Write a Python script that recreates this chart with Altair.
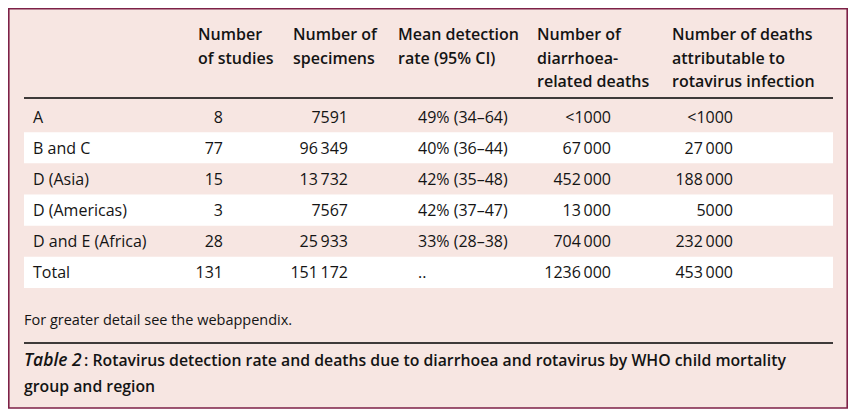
import altair as alt
import pandas as pd

# ---------------- data ----------------
regions = ["A", "B and C", "D (Asia)", "D (Americas)", "D and E (Africa)", "Total"]
n_studies = ["8", "77", "15", "3", "28", "131"]
n_specimens = ["7591", "96\u2009349", "13\u2009732", "7567", "25\u2009933", "151\u2009172"]
mean_rate = ["49% (34–64)", "40% (36–44)", "42% (35–48)", "42% (37–47)", "33% (28–38)", ".."]
diarrhoea_deaths = ["<1000", "67\u2009000", "452\u2009000", "13\u2009000", "704\u2009000", "1236\u2009000"]
rotavirus_deaths = ["<1000", "27\u2009000", "188\u2009000", "5000", "232\u2009000", "453\u2009000"]
headers = [
    "Number\nof studies",
    "Number of\nspecimens",
    "Mean detection\nrate (95% CI)",
    "Number of\ndiarrhoea-\nrelated deaths",
    "Number of deaths\nattributable to\nrotavirus infection",
]
footnote = "For greater detail see the webappendix."
caption_label = "Table 2"
caption_lines = [
    ": Rotavirus detection rate and deaths due to diarrhoea and rotavirus by WHO child mortality",
    "group and region",
]

# ---------------- layout ----------------
W, H = 840, 401
FONT = "Open Sans"
PINK = "#f7e6e2"
BORDER = "#7d2147"
INK = "#141414"

body_columns = [regions, n_studies, n_specimens, mean_rate, diarrhoea_deaths, rotavirus_deaths]
body_x = [25, 215, 340, 410, 603, 725]
body_align = ["left", "right", "right", "left", "right", "right"]
header_x = [190, 285, 390, 529, 664]

cells = []
for ci, col in enumerate(body_columns):
    for ri, val in enumerate(col):
        cells.append({"row": regions[ri], "x": body_x[ci], "text": val,
                      "align": body_align[ci]})
cells = pd.DataFrame(cells)

stripes = pd.DataFrame({"row": regions, "stripe": [i % 2 for i in range(len(regions))]})
head_df = pd.DataFrame({"x": header_x, "text": headers})

px = alt.Scale(domain=[0, W], range=[0, W], nice=False, zero=False)
rows = alt.Scale(domain=regions, range=[93, 280], paddingInner=0, paddingOuter=0)

base = alt.Chart(cells)

frame = alt.Chart(pd.DataFrame({"k": [0]})).mark_rect(
    fill=PINK, stroke=BORDER, strokeWidth=1.6
).encode(x=alt.value(0.8), x2=alt.value(W - 0.8), y=alt.value(0.8), y2=alt.value(400))

bands = alt.Chart(stripes).transform_filter("datum.stripe == 1").mark_rect(fill="white").encode(
    y=alt.Y("row:N", scale=rows, axis=None),
    x=alt.value(16), x2=alt.value(825),
)

rule_head = alt.Chart(pd.DataFrame({"k": [0]})).mark_rule(color="#000", strokeWidth=1.3).encode(
    x=alt.value(16), x2=alt.value(825), y=alt.value(90))
rule_foot = alt.Chart(pd.DataFrame({"k": [0]})).mark_rule(color="#000", strokeWidth=1.3).encode(
    x=alt.value(16), x2=alt.value(825), y=alt.value(335))

head_text = alt.Chart(head_df).mark_text(
    font=FONT, fontSize=16, fontWeight=600, align="left", baseline="alphabetic",
    lineBreak="\n", lineHeight=23.5, color=INK
).encode(x=alt.X("x:Q", scale=px, axis=None), y=alt.value(32), text="text:N")

left_text = base.transform_filter("datum.align == 'left'").mark_text(
    font=FONT, fontSize=16, align="left", baseline="middle", dy=1, color=INK
).encode(x=alt.X("x:Q", scale=px, axis=None), y=alt.Y("row:N", scale=rows, axis=None), text="text:N")

right_text = base.transform_filter("datum.align == 'right'").mark_text(
    font=FONT, fontSize=16, align="right", baseline="middle", dy=1, color=INK
).encode(x=alt.X("x:Q", scale=px, axis=None), y=alt.Y("row:N", scale=rows, axis=None), text="text:N")

foot_text = alt.Chart(pd.DataFrame({"text": [footnote]})).mark_text(
    font=FONT, fontSize=14.5, align="left", baseline="alphabetic", color=INK
).encode(x=alt.value(16), y=alt.value(317), text="text:N")

cap_label = alt.Chart(pd.DataFrame({"text": [caption_label]})).mark_text(
    font=FONT, fontSize=17.5, fontWeight=600, fontStyle="italic", align="left",
    baseline="alphabetic", color=INK
).encode(x=alt.value(16), y=alt.value(358), text="text:N")

cap_df = pd.DataFrame({"text": caption_lines, "x": [76, 16], "y": [358, 384]})
cap_text = alt.Chart(cap_df).mark_text(
    font=FONT, fontSize=15.8, fontWeight=600, align="left", baseline="alphabetic", color=INK
).encode(x=alt.X("x:Q", scale=px, axis=None),
         y=alt.Y("y:Q", scale=alt.Scale(domain=[0, H], range=[0, H], nice=False, zero=False), axis=None),
         text="text:N")

chart = alt.layer(
    frame, bands, rule_head, rule_foot, head_text, left_text, right_text,
    foot_text, cap_label, cap_text
).resolve_scale(y="independent").properties(
    width=W, height=H, autosize="none", padding=0, background="white"
).configure_view(stroke=None)

chart.save("out.html", embed_options={"renderer": "svg", "actions": False})
